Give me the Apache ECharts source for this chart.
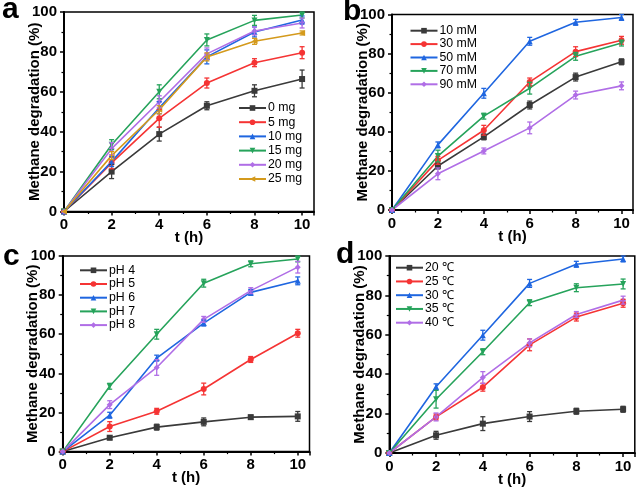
<!DOCTYPE html>
<html><head><meta charset="utf-8">
<script src="https://cdn.jsdelivr.net/npm/echarts@6/dist/echarts.min.js"></script>
<style>html,body{margin:0;padding:0;background:#fff}#c{width:638px;height:495px}</style>
</head><body><div id="c"></div>
<script>
const times = [0, 2, 4, 6, 8, 10];
const xTicks = [0, 2, 4, 6, 8, 10];
const yTicks = [0, 20, 40, 60, 80, 100];

// Panel a
const aNames = ['0 mg', '5 mg', '10 mg', '15 mg', '20 mg', '25 mg'];
const a0 = [0, 20, 38.8, 53, 60.5, 66.4];
const a5 = [0, 24.4, 46.7, 64.4, 74.6, 79.6];
const a10 = [0, 25, 52, 77.5, 90, 96];
const a15 = [0, 33.5, 60, 86, 95.8, 98.5];
const a20 = [0, 31.5, 55, 79, 90.5, 94.5];
const a25 = [0, 28, 51, 77.5, 85.3, 89.5];
const a0e = [0, 3.5, 3.5, 2, 3, 4.5];
const a5e = [0, 3, 4.5, 2.5, 2, 3];
const a10e = [0, 2.5, 3, 3.5, 2.5, 2];
const a15e = [0, 2.5, 3.5, 3, 2.5, 1.5];
const a20e = [0, 3, 3, 3, 2, 2.5];
const a25e = [0, 2, 2, 2, 1.5, 1];

// Panel b
const bNames = ['10 mM', '30 mM', '50 mM', '70 mM', '90 mM'];
const b10 = [0, 22.5, 37.4, 53.7, 68, 75.8];
const b30 = [0, 25.4, 40.8, 65.5, 81, 86.8];
const b50 = [0, 33.3, 59.7, 86.3, 96, 98.5];
const b70 = [0, 27.6, 48, 62.3, 78.6, 85.4];
const b90 = [0, 18.5, 30.2, 42, 58.8, 63.5];
const b10e = [0, 1.5, 1.5, 2, 2, 1.5];
const b30e = [0, 2, 2.5, 2, 2.5, 2];
const b50e = [0, 1.5, 2.5, 2, 1.5, 1.5];
const b70e = [0, 3, 1.5, 3, 2, 1.5];
const b90e = [0, 3, 1.5, 3, 2, 2];

// Panel c
const cNames = ['pH 4', 'pH 5', 'pH 6', 'pH 7', 'pH 8'];
const c4 = [0, 7.1, 12.5, 15.2, 17.6, 18];
const c5 = [0, 12.8, 20.6, 32, 47.1, 60.5];
const c6 = [0, 18.6, 47.8, 65.7, 81.4, 87.3];
const c7 = [0, 33.4, 60, 86.1, 96, 98.5];
const c8 = [0, 24, 43, 67.6, 82.3, 94.3];
const c4e = [0, 1, 1.5, 2, 1, 2.5];
const c5e = [0, 2.5, 1.5, 3, 1.5, 2];
const c6e = [0, 1.5, 1.5, 1.5, 1.5, 2];
const c7e = [0, 1.5, 2.5, 2, 1.5, 1.5];
const c8e = [0, 2, 4, 1.5, 1.5, 3];

// Panel d
const dNames = ['20 ℃', '25 ℃', '30 ℃', '35 ℃', '40 ℃'];
const d20 = [0, 9, 14.9, 18.5, 21.2, 22.2];
const d25 = [0, 18.3, 33.4, 54.9, 69, 76];
const d30 = [0, 33.6, 59.8, 86.1, 95.8, 98.5];
const d35 = [0, 27.3, 51.4, 76.3, 83.9, 85.8];
const d40 = [0, 18.3, 38.3, 55.9, 70.3, 77.6];
const d20e = [0, 2, 3.5, 2.5, 1.5, 1.5];
const d25e = [0, 1.5, 2, 3, 2, 2];
const d30e = [0, 1.5, 2.5, 2, 1.5, 1.5];
const d35e = [0, 4.5, 1.5, 1.5, 2, 2.5];
const d40e = [0, 2, 3, 2, 1.5, 2];

const panelLetters = ['a', 'b', 'c', 'd'];
const xName = 't (h)';
const yName = 'Methane degradation (%)';

const COL = {k:'#3a3a3a', r:'#f53434', b:'#1f66e0', g:'#26a35b', p:'#b06ee6', o:'#d49a1c'};
const SYM = {
  rect:{symbol:'rect', rot:0}, circ:{symbol:'circle', rot:0}, up:{symbol:'triangle', rot:0},
  down:{symbol:'triangle', rot:180}, dia:{symbol:'diamond', rot:0}, left:{symbol:'triangle', rot:90}
};

const panels = [
  {names:aNames, vals:[a0,a5,a10,a15,a20,a25], errs:[a0e,a5e,a10e,a15e,a20e,a25e],
   cols:[COL.k,COL.r,COL.b,COL.g,COL.p,COL.o], syms:[SYM.rect,SYM.circ,SYM.up,SYM.down,SYM.dia,SYM.left],
   grid:{left:64, top:12, width:250, height:199.5}, legend:{left:238, top:102, gap:2.2}},
  {names:bNames, vals:[b10,b30,b50,b70,b90], errs:[b10e,b30e,b50e,b70e,b90e],
   cols:[COL.k,COL.r,COL.b,COL.g,COL.p], syms:[SYM.rect,SYM.circ,SYM.up,SYM.down,SYM.dia],
   grid:{left:392, top:14.5, width:241, height:195.5}, legend:{left:409.5, top:24.7, gap:1.4}},
  {names:cNames, vals:[c4,c5,c6,c7,c8], errs:[c4e,c5e,c6e,c7e,c8e],
   cols:[COL.k,COL.r,COL.b,COL.g,COL.p], syms:[SYM.rect,SYM.circ,SYM.up,SYM.down,SYM.dia],
   grid:{left:62.7, top:256, width:246.8, height:195.6}, legend:{left:79, top:264.3, gap:1.7}},
  {names:dNames, vals:[d20,d25,d30,d35,d40], errs:[d20e,d25e,d30e,d35e,d40e],
   cols:[COL.k,COL.r,COL.b,COL.g,COL.p], syms:[SYM.rect,SYM.circ,SYM.up,SYM.down,SYM.dia],
   grid:{left:389.3, top:256, width:245.5, height:197}, legend:{left:395, top:261.7, gap:1.75}}
];

const FONT = '"Liberation Sans", Arial, sans-serif';
const grids = [], xAxes = [], yAxes = [], series = [], legends = [];

panels.forEach((p, i) => {
  grids.push(Object.assign({show:true, borderColor:'#000', borderWidth:1.5, backgroundColor:'transparent'}, p.grid));
  const axisCommon = {
    gridIndex:i, type:'value', nameLocation:'middle', nameMoveOverlap:false,
    axisLine:{show:true, onZero:false, lineStyle:{color:'#000', width:2}},
    axisTick:{show:true, inside:false, length:4, lineStyle:{color:'#000', width:1.5}},
    minorTick:{show:true, splitNumber:2, length:2.5, lineStyle:{color:'#000', width:1.2}},
    splitLine:{show:false},
    nameTextStyle:{fontFamily:FONT, fontWeight:'bold', fontSize:15, color:'#000'}
  };
  xAxes.push(Object.assign({}, axisCommon, {
    min:0, max:10.5, interval:2, name:xName, nameGap:19,
    axisLabel:{fontFamily:FONT, fontWeight:'bold', fontSize:15, color:'#000', margin:6,
      formatter:v => xTicks.indexOf(v) >= 0 ? String(v) : ''}
  }));
  yAxes.push(Object.assign({}, axisCommon, {
    min:0, max:100, interval:20, name:yName, nameGap:22,
    axisLabel:{fontFamily:FONT, fontWeight:'bold', fontSize:15, color:'#000', margin:7,
      formatter:v => yTicks.indexOf(v) >= 0 ? String(v) : ''}
  }));
  p.names.forEach((nm, j) => {
    const col = p.cols[j];
    series.push({
      type:'line', name:nm, xAxisIndex:i, yAxisIndex:i,
      data:times.map((t, k) => [t, p.vals[j][k]]),
      symbol:p.syms[j].symbol, symbolRotate:p.syms[j].rot, symbolSize:6,
      showSymbol:true, lineStyle:{color:col, width:1.6}, itemStyle:{color:col},
      z:3, animation:false
    });
    series.push({
      type:'custom', name:'err_' + i + '_' + j, xAxisIndex:i, yAxisIndex:i,
      data:times.map((t, k) => [t, p.vals[j][k], p.errs[j][k]]),
      clip:false, z:4, animation:false, silent:true,
      renderItem:(params, api) => {
        const x = api.value(0), y = api.value(1), e = api.value(2);
        if (!e) return null;
        const hi = api.coord([x, y + e]), lo = api.coord([x, y - e]);
        const w = 2.5;
        const st = {stroke:col, lineWidth:1.3};
        return {type:'group', children:[
          {type:'line', shape:{x1:hi[0], y1:hi[1], x2:lo[0], y2:lo[1]}, style:st},
          {type:'line', shape:{x1:hi[0]-w, y1:hi[1], x2:hi[0]+w, y2:hi[1]}, style:st},
          {type:'line', shape:{x1:lo[0]-w, y1:lo[1], x2:lo[0]+w, y2:lo[1]}, style:st}
        ]};
      }
    });
  });
  legends.push({
    data:p.names, left:p.legend.left, top:p.legend.top, orient:'vertical',
    itemWidth:27, itemHeight:7, itemGap:p.legend.gap, selectedMode:false,
    textStyle:{fontFamily:FONT, fontSize:12.3, color:'#000', lineHeight:12, padding:[0,0,0,-3]},
    padding:0
  });
});

const letterPos = [[2, 21], [343, 23], [3, 268], [336, 266]];
const graphics = panelLetters.map((L, i) => ({
  type:'text', left:letterPos[i][0], top:letterPos[i][1] - 26,
  style:{text:L, fontFamily:FONT, fontWeight:'bold', fontSize:30, fill:'#000'}
}));

const chart = echarts.init(document.getElementById('c'), null, {renderer:'canvas'});
chart.setOption({
  animation:false, backgroundColor:'#fff',
  grid:grids, xAxis:xAxes, yAxis:yAxes, series:series, legend:legends, graphic:graphics
});
</script></body></html>
